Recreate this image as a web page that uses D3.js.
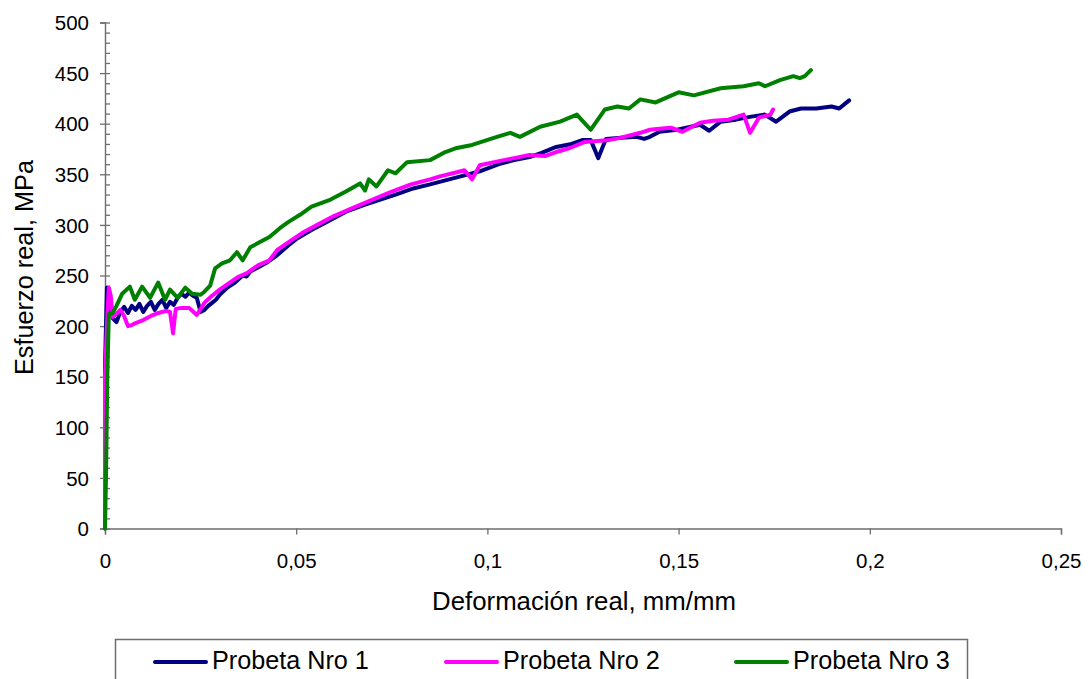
<!DOCTYPE html>
<html lang="es">
  <head>
    <meta charset="utf-8">
    <title>Esfuerzo real vs deformación real</title>
    <script src="https://d3js.org/d3.v7.js"></script>
    <style>
      body { margin: 0; background: #fff; }
      text { font-family: "Liberation Sans", Arial, sans-serif; fill: #000; }
    </style>
  </head>

  <body>
    <svg></svg>

  <script>

// Data

  var seriesNames = ["Probeta Nro 1", "Probeta Nro 2", "Probeta Nro 3"];
  var seriesColors = ["#000080", "#ff00ff", "#008000"];

  var strain1 = [0, 0, 0.0005, 0.001, 0.0015, 0.002, 0.003, 0.004, 0.005, 0.006, 0.007, 0.008, 0.009, 0.010,
                 0.011, 0.012, 0.013, 0.014, 0.015, 0.016, 0.017, 0.018, 0.019, 0.020, 0.021, 0.022, 0.023,
                 0.024, 0.025, 0.026, 0.027, 0.028, 0.029, 0.030, 0.032, 0.034, 0.036, 0.037, 0.038, 0.040,
                 0.042, 0.045, 0.048, 0.050, 0.054, 0.058, 0.063, 0.068, 0.072, 0.076, 0.0806, 0.085, 0.089,
                 0.094, 0.098, 0.103, 0.107, 0.111, 0.114, 0.118, 0.122, 0.125, 0.127, 0.129, 0.131, 0.135,
                 0.139, 0.141, 0.1425, 0.145, 0.1496, 0.1556, 0.158, 0.161, 0.165, 0.169, 0.1725, 0.1755,
                 0.179, 0.182, 0.186, 0.19, 0.192, 0.1946];
  var stress1 = [0, 160, 238, 236, 215, 208, 204, 214, 219, 213, 220, 216, 222, 214,
                 220, 224, 216, 222, 226, 218, 224, 221, 228, 232, 229, 233, 230,
                 228, 214, 216, 220, 223, 226, 231, 238, 243, 250, 249, 254, 258,
                 262, 270, 280, 286, 295, 303, 313, 320, 325, 330, 336, 340, 344,
                 349, 353, 360, 364, 367, 371, 377, 380, 384, 384, 366, 385, 386,
                 387, 385, 387, 392, 394, 399, 393, 402, 404, 407, 409, 402,
                 412, 415, 415, 417, 415, 423];

  var strain2 = [0, 0, 0.0005, 0.001, 0.0015, 0.002, 0.003, 0.004, 0.005, 0.006, 0.007, 0.008, 0.010,
                 0.012, 0.014, 0.016, 0.017, 0.0178, 0.0185, 0.020, 0.022, 0.024, 0.026, 0.028, 0.030,
                 0.033, 0.035, 0.037, 0.040, 0.043, 0.045, 0.0484, 0.052, 0.056, 0.060, 0.065, 0.070,
                 0.075, 0.080, 0.085, 0.0876, 0.092, 0.094, 0.096, 0.098, 0.103, 0.107, 0.111, 0.115,
                 0.118, 0.1216, 0.1255, 0.132, 0.1347, 0.14, 0.1425, 0.145, 0.148, 0.151, 0.1556, 0.159,
                 0.163, 0.167, 0.1687, 0.171, 0.174, 0.1747];
  var stress2 = [0, 150, 200, 238, 230, 209, 212, 216, 210, 200, 201, 203, 206,
                 210, 213, 215, 214, 193, 217, 218, 218, 211, 223, 230, 236,
                 244, 249, 252, 260, 265, 275, 284, 293, 301, 309, 317, 325,
                 333, 340, 345, 348, 352, 354, 345, 359, 363, 366, 369, 368,
                 372, 376, 382, 384, 386, 391, 394, 395, 396, 392, 401, 403,
                 404, 409, 391, 406, 409, 414];

  var strain3 = [0, 0.0003, 0.0006, 0.001, 0.002, 0.003, 0.0045, 0.0065, 0.0078, 0.0097, 0.0118, 0.0139,
                 0.0157, 0.017, 0.019, 0.021, 0.0228, 0.025, 0.026, 0.0275, 0.0288, 0.0306, 0.0327, 0.0345,
                 0.036, 0.038, 0.0405, 0.043, 0.0458, 0.048, 0.051, 0.054, 0.059, 0.063, 0.0667, 0.068,
                 0.069, 0.071, 0.074, 0.076, 0.079, 0.085, 0.089, 0.092, 0.096, 0.1025, 0.106, 0.1085,
                 0.1138, 0.119, 0.1234, 0.127, 0.1307, 0.134, 0.137, 0.14, 0.144, 0.150, 0.154, 0.161,
                 0.167, 0.171, 0.1726, 0.1765, 0.180, 0.1817, 0.183, 0.1846];
  var stress3 = [0, 60, 150, 212, 213, 220, 232, 239, 226, 239, 228, 243,
                 226, 236, 228, 238, 232, 231, 234, 240, 257, 262, 265, 273,
                 265, 278, 283, 288, 297, 303, 310, 318, 325, 333, 341, 334,
                 345, 338, 354, 351, 362, 364, 372, 376, 379, 387, 391, 387,
                 397, 402, 409, 394, 414, 417, 415, 424, 421, 431, 428, 435,
                 437, 440, 437, 443, 447, 445, 447, 453];

  var xTicks = [0, 0.05, 0.1, 0.15, 0.2, 0.25];
  var xTickLabels = ["0", "0,05", "0,1", "0,15", "0,2", "0,25"];
  var yTicks = [0, 50, 100, 150, 200, 250, 300, 350, 400, 450, 500];
  var yTickLabels = ["0", "50", "100", "150", "200", "250", "300", "350", "400", "450", "500"];

// Svg and scales

  var w = 1089;
  var h = 679;
  var margin = {top: 22.5, right: 28, bottom: 150.5, left: 105};

  var svg = d3.select("svg")
      .attr("width", w)
      .attr("height", h);

  svg.append("rect")
      .attr("width", w)
      .attr("height", h)
      .attr("fill", "#fff");

  var xScale = d3.scaleLinear()
      .domain([0, 0.25])
      .range([margin.left, w - margin.right]);

  var yScale = d3.scaleLinear()
      .domain([0, 500])
      .range([h - margin.bottom, margin.top]);

// Axes

  var xAxis = d3.axisBottom(xScale)
      .tickValues(xTicks)
      .tickSize(6)
      .tickPadding(19)
      .tickFormat((d, i) => xTickLabels[i]);

  var yAxis = d3.axisLeft(yScale)
      .tickValues(yTicks)
      .tickSize(5)
      .tickPadding(11)
      .tickFormat((d, i) => yTickLabels[i]);

  var yMinor = d3.axisRight(yScale)
      .tickValues(d3.range(0, 501, 10))
      .tickSize(5)
      .tickFormat("");

  var gx = svg.append("g")
      .attr("class", "xAxis")
      .attr("transform", `translate(0, ${h - margin.bottom})`)
      .call(xAxis);

  var gyMinor = svg.append("g")
      .attr("transform", `translate(${margin.left}, 0)`)
      .call(yMinor);

  var gy = svg.append("g")
      .attr("class", "yAxis")
      .attr("transform", `translate(${margin.left}, 0)`)
      .call(yAxis);

  [gx, gy, gyMinor].forEach(g => {
    g.select(".domain").attr("stroke", "#6e6e6e").attr("stroke-width", 1.4);
    g.selectAll(".tick line").attr("stroke", "#6e6e6e").attr("stroke-width", 1.3);
    g.selectAll("text")
      .attr("font-size", 20.5)
      .attr("font-family", "'Liberation Sans', Arial, sans-serif")
      .attr("fill", "#000");
  });
  gyMinor.select(".domain").remove();
  gy.selectAll("text").attr("dy", "0.35em");

// Curves

  var line = d3.line()
      .x(d => xScale(d[0]))
      .y(d => yScale(d[1]));

  var curves = [d3.zip(strain1, stress1), d3.zip(strain2, stress2), d3.zip(strain3, stress3)];

  svg.append("g")
      .attr("id", "plot")
    .selectAll("path")
      .data(curves)
    .enter().append("path")
      .attr("d", line)
      .attr("fill", "none")
      .attr("stroke", (d, i) => seriesColors[i])
      .attr("stroke-width", 4)
      .attr("stroke-linejoin", "round")
      .attr("stroke-linecap", "round");

// Axis titles

  svg.append("text")
      .attr("x", 584)
      .attr("y", 610)
      .attr("text-anchor", "middle")
      .attr("font-size", 25.8)
      .text("Deformación real, mm/mm");

  svg.append("text")
      .attr("transform", "translate(33, 267.5) rotate(-90)")
      .attr("text-anchor", "middle")
      .attr("font-size", 25.3)
      .text("Esfuerzo real, MPa");

// Legend

  var legend = svg.append("g").attr("class", "legend");

  legend.append("rect")
      .attr("x", 115.5)
      .attr("y", 639.5)
      .attr("width", 852)
      .attr("height", 60)
      .attr("fill", "#fff")
      .attr("stroke", "#6e6e6e")
      .attr("stroke-width", 1.5);

  var legendX = [155, 446, 736];

  var items = legend.selectAll(".item")
      .data(seriesNames)
    .enter().append("g")
      .attr("class", "item")
      .attr("transform", (d, i) => `translate(${legendX[i]}, 662)`);

  items.append("line")
      .attr("x1", 0)
      .attr("x2", 51)
      .attr("stroke", (d, i) => seriesColors[i])
      .attr("stroke-width", 4)
      .attr("stroke-linecap", "round");

  items.append("text")
      .attr("x", 57)
      .attr("y", 6.5)
      .attr("font-size", 25.2)
      .text(d => d);

    </script>

  </body>

</html>
